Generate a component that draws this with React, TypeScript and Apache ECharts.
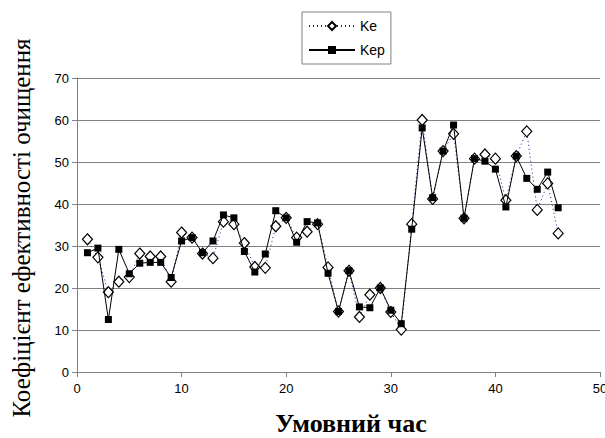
import React, { useEffect, useRef } from "react";
import * as echarts from "echarts";

const xValues = [1,2,3,4,5,6,7,8,9,10,11,12,13,14,15,16,17,18,19,20,21,22,23,24,25,26,27,28,29,30,31,32,33,34,35,36,37,38,39,40,41,42,43,44,45,46];
const keValues = [31.6,27.3,19.0,21.5,22.6,28.2,27.5,27.5,21.5,33.2,32.0,28.2,27.1,35.8,35.2,30.7,25.0,24.8,34.7,36.7,32.0,33.4,35.2,24.9,14.4,24.1,13.1,18.4,20.0,14.3,10.1,35.2,60.0,41.2,52.6,56.7,36.6,50.8,51.8,50.8,40.9,51.4,57.3,38.6,44.9,33.0];
const kepValues = [28.4,29.5,12.5,29.2,23.4,25.9,26.1,26.1,22.5,31.2,32.0,28.4,31.2,37.4,36.7,28.7,23.8,28.1,38.4,36.7,30.9,35.8,35.5,23.5,14.4,24.1,15.5,15.3,20.0,14.7,11.5,34.0,58.1,41.5,52.6,58.8,36.6,50.8,50.2,48.3,39.3,51.4,46.1,43.5,47.6,39.1];
const seriesNames = ["Ke", "Kep"];
const yTitle = "Коефіцієнт ефективності очищення";
const xTitle = "Умовний час";

export default function App() {
  const ref = useRef<HTMLDivElement>(null);
  useEffect(() => {
    if (!ref.current) return;
    const chart = echarts.init(ref.current, undefined, { renderer: "svg" });
    const sans = "Liberation Sans, Arial, sans-serif";
    const serif = "Liberation Serif, Times New Roman, serif";
    chart.setOption({
      animation: false,
      backgroundColor: "#ffffff",
      grid: { left: 77, right: 5, top: 78, bottom: 66, containLabel: false, outerBoundsMode: "none" },
      legend: {
        orient: "vertical",
        left: 302,
        top: 12,
        itemWidth: 46,
        itemHeight: 10,
        itemGap: 10,
        padding: [7, 6, 7, 6],
        borderColor: "#808080",
        borderWidth: 1,
        textStyle: { fontFamily: sans, fontSize: 14, color: "#000" },
        data: seriesNames,
      },
      xAxis: {
        type: "value",
        min: 0,
        max: 50,
        interval: 10,
        axisLine: { show: true, lineStyle: { color: "#808080", width: 1 } },
        axisTick: { show: true, inside: false, length: 5, lineStyle: { color: "#808080" } },
        axisLabel: { fontFamily: sans, fontSize: 13, color: "#000", margin: 10, showMaxLabel: true },
        splitLine: { show: false },
      },
      yAxis: {
        type: "value",
        min: 0,
        max: 70,
        interval: 10,
        axisLine: { show: true, lineStyle: { color: "#808080", width: 1 } },
        axisTick: { show: true, inside: false, length: 5, lineStyle: { color: "#808080" } },
        axisLabel: { fontFamily: sans, fontSize: 13, color: "#000", margin: 8 },
        splitLine: { show: true, lineStyle: { color: "#808080", width: 1 } },
      },
      series: [
        {
          name: seriesNames[0],
          type: "line",
          data: xValues.map((x, i) => [x, keValues[i]]),
          symbol: "diamond",
          symbolSize: [10, 11],
          lineStyle: { color: "#1a1a9a", width: 1, type: [1, 3] },
          itemStyle: { color: "#ffffff", borderColor: "#000000", borderWidth: 1.2 },
          z: 2,
        },
        {
          name: seriesNames[1],
          type: "line",
          data: xValues.map((x, i) => [x, kepValues[i]]),
          symbol: "rect",
          symbolSize: 7,
          lineStyle: { color: "#000000", width: 1, type: "solid" },
          itemStyle: { color: "#000000", borderColor: "#000000", borderWidth: 0 },
          z: 3,
        },
      ],
      graphic: [
        {
          type: "text",
          x: 21,
          y: 228,
          rotation: Math.PI / 2,
          style: {
            text: yTitle,
            font: "25px " + serif,
            fill: "#000",
            textAlign: "center",
            textVerticalAlign: "middle",
          },
        },
        {
          type: "text",
          x: 351,
          y: 423,
          style: {
            text: xTitle,
            font: "bold 26px " + serif,
            fill: "#000",
            textAlign: "center",
            textVerticalAlign: "middle",
          },
        },
      ],
    });
    return () => chart.dispose();
  }, []);
  return <div ref={ref} style={{ width: 605, height: 438, position: "absolute", left: 0, top: 0 }} />;
}
